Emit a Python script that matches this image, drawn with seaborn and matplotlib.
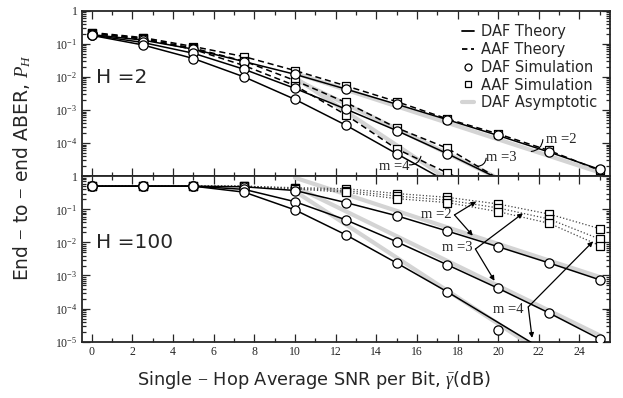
import numpy as np
import matplotlib
matplotlib.use('Agg')
import matplotlib.pyplot as plt
import seaborn as sns
from matplotlib.lines import Line2D
from matplotlib.ticker import FixedLocator, FixedFormatter, LogLocator, MultipleLocator, NullFormatter

nan = np.nan
snr = [0, 2.5, 5, 7.5, 10, 12.5, 15, 17.5, 20, 22.5, 25]

# H = 2 : DAF theory / simulation
daf2_m2 = [0.19, 0.13, 0.069, 0.029, 0.012, 0.0043, 0.0015, 0.00051, 0.00017, 5.4e-5, 1.6e-5]
daf2_m3 = [0.185, 0.11, 0.052, 0.017, 0.0045, 0.00107, 0.00024, 4.8e-5, 8.5e-6, nan, nan]
daf2_m4 = [0.18, 0.093, 0.036, 0.010, 0.0021, 0.00035, 4.8e-5, 6.8e-6, nan, nan, nan]
# H = 2 : AAF theory / simulation
aaf2_m2 = [0.22, 0.155, 0.083, 0.041, 0.0156, 0.0054, 0.0018, 0.00054, 0.00019, 6e-5, 1.5e-5]
aaf2_m3 = [0.21, 0.145, 0.074, 0.030, 0.0078, 0.0017, 0.00029, 7e-5, 8.5e-6, nan, nan]
aaf2_m4 = [0.205, 0.14, 0.068, 0.022, 0.0055, 0.00072, 6.7e-5, 1.26e-5, 2.5e-6, nan, nan]
# H = 2 : DAF asymptotic (start, end)
asym2_x = [[10, 25], [10, 19.8], [10, 17.3]]
asym2_y = [[0.013, 1.3e-5], [0.0085, 1e-5], [0.0095, 1e-5]]

# H = 100 : DAF theory
daf100_m2 = [0.5, 0.5, 0.5, 0.48, 0.37, 0.16, 0.064, 0.022, 0.0074, 0.0024, 0.00074]
daf100_m3 = [0.5, 0.5, 0.5, 0.40, 0.17, 0.048, 0.0105, 0.0021, 0.00041, 7.4e-5, 1.2e-5]
daf100_m4 = [0.5, 0.5, 0.5, 0.33, 0.096, 0.017, 0.0024, 0.00032, 3.8e-5, 4.5e-6, nan]
# H = 100 : DAF simulation (m=4 departs at 20 dB)
sim100_m4 = [0.5, 0.5, 0.5, 0.33, 0.096, 0.017, 0.0024, 0.00032, 2.2e-5, nan, nan]
# H = 100 : AAF theory / simulation
aaf100_m2 = [0.5, 0.5, 0.5, 0.5, 0.45, 0.42, 0.30, 0.23, 0.145, 0.072, 0.026]
aaf100_m3 = [0.5, 0.5, 0.5, 0.5, 0.43, 0.37, 0.25, 0.19, 0.11, 0.051, 0.0126]
aaf100_m4 = [0.5, 0.5, 0.5, 0.5, 0.41, 0.33, 0.21, 0.16, 0.085, 0.038, 0.008]
# H = 100 : DAF asymptotic (start, end)
asym100_x = [[10, 25], [10, 25], [10, 21.35]]
asym100_y = [[0.9, 9e-4], [0.49, 1.55e-5], [0.35, 1e-5]]

y_ticks = [1e-5, 1e-4, 1e-3, 1e-2, 1e-1, 1]
y_labels = ['10$^{-5}$', '10$^{-4}$', '10$^{-3}$', '10$^{-2}$', '10$^{-1}$', '1']
x_ticks = list(range(0, 25, 2))

sns.set_style('ticks', {'xtick.direction': 'in', 'ytick.direction': 'in'})
plt.rcParams['font.family'] = ['DejaVu Sans']
plt.rcParams['mathtext.fontset'] = 'custom'
plt.rcParams['mathtext.rm'] = 'Liberation Serif'
plt.rcParams['mathtext.it'] = 'Liberation Serif:italic'
plt.rcParams['mathtext.bf'] = 'Liberation Serif:bold'

fig, (ax1, ax2) = plt.subplots(2, 1, figsize=(6.23, 3.98), dpi=100, sharex=True)
fig.subplots_adjust(left=0.131, right=0.979, top=0.973, bottom=0.1415, hspace=0)

GRAY = '#d4d4d4'


def masked(vals):
    return [v if (v == v and v >= 1e-5) else nan for v in vals]


def panel(ax, daf, sims, aaf, aaf_ls, aaf_lw, aaf_col, ax_x, ax_y):
    ax.set_yscale('log')
    for xs, ys in zip(ax_x, ax_y):
        sns.lineplot(x=xs, y=ys, color=GRAY, lw=3, ax=ax, zorder=1)
    for vals in aaf:
        sns.lineplot(x=snr, y=vals, color=aaf_col, lw=aaf_lw, ls=aaf_ls, ax=ax, zorder=2)
    for vals in daf:
        sns.lineplot(x=snr, y=vals, color='black', lw=1.1, ax=ax, zorder=3)
    for vals in aaf:
        sns.scatterplot(x=snr, y=masked(vals), marker='s', s=26, facecolor='white',
                        edgecolor='black', linewidth=0.9, ax=ax, zorder=4)
    for vals in sims:
        sns.scatterplot(x=snr, y=masked(vals), marker='o', s=44, facecolor='white',
                        edgecolor='black', linewidth=0.9, ax=ax, zorder=5)
    ax.set_ylim(1e-5, 1)
    ax.set_xlim(-0.5, 25.5)
    ax.yaxis.set_major_locator(FixedLocator(y_ticks))
    ax.yaxis.set_minor_locator(LogLocator(base=10, subs=np.arange(2, 10)))
    ax.yaxis.set_minor_formatter(NullFormatter())
    ax.xaxis.set_major_locator(FixedLocator(x_ticks))
    ax.xaxis.set_minor_locator(MultipleLocator(1))
    ax.tick_params(which='both', direction='in', top=True, right=True, width=0.9, labelsize=8.5, pad=3)
    ax.tick_params(which='major', length=6)
    ax.tick_params(which='minor', length=3)
    for s in ax.spines.values():
        s.set_linewidth(1.3)
    ax.set_xlabel('')
    ax.set_ylabel('')


dash = (0, (4, 2.5))
panel(ax1, [daf2_m2, daf2_m3, daf2_m4], [daf2_m2, daf2_m3, daf2_m4],
      [aaf2_m2, aaf2_m3, aaf2_m4], dash, 1.1, 'black', asym2_x, asym2_y)
panel(ax2, [daf100_m2, daf100_m3, daf100_m4], [daf100_m2, daf100_m3, sim100_m4],
      [aaf100_m2, aaf100_m3, aaf100_m4], ':', 0.9, '#444444', asym100_x, asym100_y)

serif = {'family': 'Liberation Serif'}
ax1.yaxis.set_major_formatter(FixedFormatter([''] + y_labels[1:]))
ax2.yaxis.set_major_formatter(FixedFormatter(y_labels))
ax2.set_xticks(x_ticks)
ax2.set_xticklabels([str(t) for t in x_ticks])
for ax in (ax1, ax2):
    for lab in ax.get_xticklabels() + ax.get_yticklabels():
        lab.set_fontfamily('Liberation Serif')

ax1.text(0.2, 0.0093, 'H =2', fontsize=14.5, va='center', ha='left')
ax2.text(0.2, 0.0096, 'H =100', fontsize=14.5, va='center', ha='left')

# top panel group labels with small arcs
ax1.text(23.1, 1.27e-4, 'm =2', fontsize=10.5, ha='center', va='center', fontdict=serif)
ax1.text(20.15, 3.6e-5, 'm =3', fontsize=10.5, ha='center', va='center', fontdict=serif)
ax1.text(14.88, 1.95e-5, 'm =4', fontsize=10.5, ha='center', va='center', fontdict=serif)
arc = dict(arrowstyle='-', connectionstyle='arc3,rad=0.4', lw=0.8, color='black',
           shrinkA=0, shrinkB=0)
ax1.annotate('', xy=(22.2, 1.28e-4), xytext=(21.63, 5.6e-5), arrowprops=arc)
ax1.annotate('', xy=(19.41, 3.5e-5), xytext=(19.0, 2e-5), arrowprops=arc)
ax1.annotate('', xy=(16.2, 4e-5), xytext=(15.63, 2.2e-5), arrowprops=arc)

# bottom panel labels with arrows
arr = dict(arrowstyle='-|>', lw=0.9, color='black', mutation_scale=7, shrinkA=0, shrinkB=0)
ax2.text(16.95, 0.0716, 'm =2', fontsize=10.5, ha='center', va='center', fontdict=serif)
ax2.annotate('', xy=(18.92, 0.171), xytext=(17.85, 0.0676), arrowprops=arr)
ax2.annotate('', xy=(18.75, 0.016), xytext=(17.85, 0.0676), arrowprops=arr)
ax2.text(17.98, 0.0071, 'm =3', fontsize=10.5, ha='center', va='center', fontdict=serif)
ax2.annotate('', xy=(21.22, 0.0758), xytext=(18.88, 0.0063), arrowprops=arr)
ax2.annotate('', xy=(19.82, 6.9e-4), xytext=(18.88, 0.0063), arrowprops=arr)
ax2.text(20.52, 9.6e-5, 'm =4', fontsize=10.5, ha='center', va='center', fontdict=serif)
ax2.annotate('', xy=(24.67, 0.0107), xytext=(21.48, 1.12e-4), arrowprops=arr)
ax2.annotate('', xy=(21.67, 1.3e-5), xytext=(21.48, 1.12e-4), arrowprops=arr)

handles = [
    Line2D([], [], color='black', lw=1.3, label='DAF Theory'),
    Line2D([], [], color='black', lw=1.3, ls=(0, (3, 2)), label='AAF Theory'),
    Line2D([], [], color='black', marker='o', ls='none', mfc='white', mew=0.9, ms=5, label='DAF Simulation'),
    Line2D([], [], color='black', marker='s', ls='none', mfc='white', mew=0.9, ms=5, label='AAF Simulation'),
    Line2D([], [], color=GRAY, lw=3, label='DAF Asymptotic'),
]
ax1.legend(handles=handles, loc='upper right', bbox_to_anchor=(0.99, 0.965), frameon=False,
           fontsize=10.5, handlelength=0.8, handletextpad=0.5, labelspacing=0.2, borderpad=0)

fig.text(0.504, 0.045, r'Single $-$ Hop Average SNR per Bit, $\bar{\gamma}$(dB)', fontsize=12.8,
         ha='center', va='center')
fig.text(0.036, 0.58, r'End $-$ to $-$ end ABER, $P_H$', rotation=90, fontsize=13.5,
         ha='center', va='center')

fig.savefig('out.png', dpi=100)
